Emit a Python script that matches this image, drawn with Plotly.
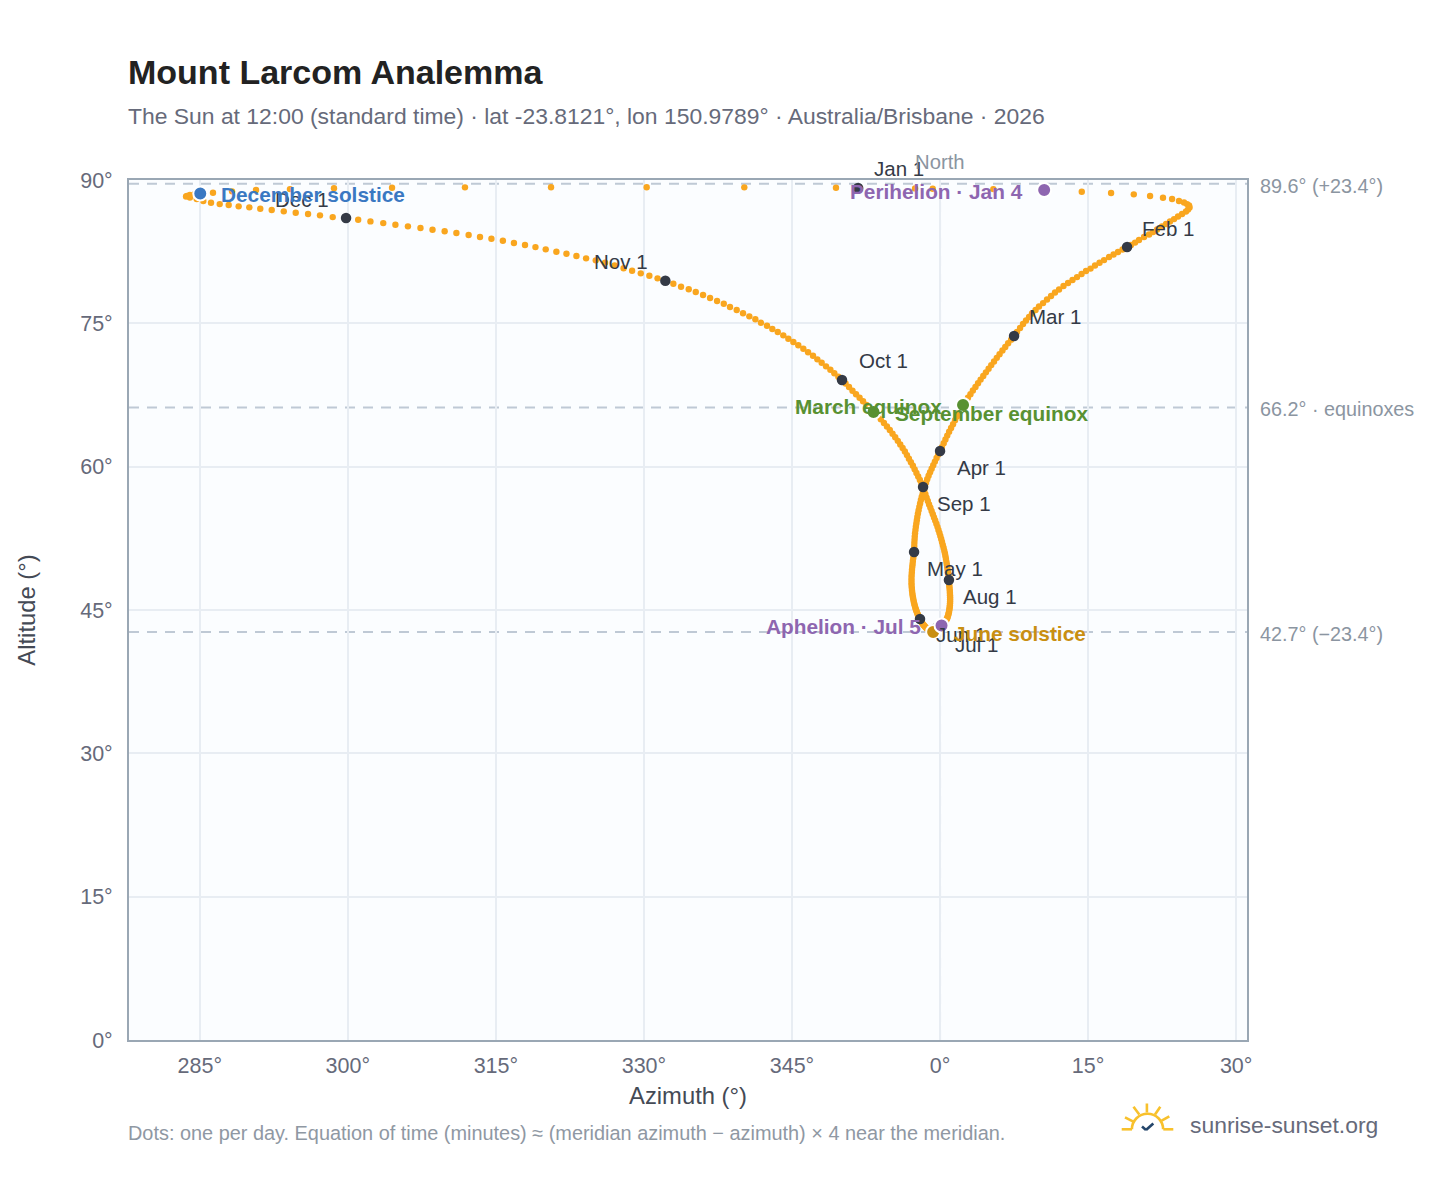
import plotly.graph_objects as go

# ---- daily Sun position (azimuth in degrees, continuing past 360 east of north) ----
az_jan = [349.46,357.47,359.26,365.40,370.54,374.36,377.33,379.63,381.28,382.59,383.51,384.21,384.72,385.03,385.23,385.28,385.13,384.92,384.52,384.11,383.71,383.30,382.90,382.49,381.99,381.58,381.18,380.67,380.16,379.76,379.35]
alt_jan = [89.19,89.12,89.09,89.05,88.95,88.77,88.64,88.50,88.32,88.14,88.01,87.80,87.64,87.48,87.33,87.12,86.91,86.70,86.44,86.18,85.91,85.65,85.39,85.13,84.82,84.55,84.29,84.03,83.72,83.45,83.19]
az_feb = [378.95,378.49,378.03,377.58,377.12,376.62,376.16,375.70,375.25,374.79,374.34,373.88,373.42,372.97,372.51,372.06,371.65,371.25,370.84,370.44,370.03,369.68,369.32,369.02,368.71,368.41,368.11,367.80]
alt_feb = [82.98,82.72,82.46,82.20,81.94,81.62,81.34,81.05,80.73,80.47,80.16,79.84,79.53,79.22,78.90,78.54,78.22,77.86,77.49,77.12,76.76,76.39,76.03,75.66,75.29,74.93,74.51,74.09]
az_mar = [367.50,367.20,366.90,366.61,366.32,366.03,365.75,365.47,365.19,364.92,364.65,364.38,364.11,363.85,363.59,363.33,363.08,362.83,362.58,362.33,362.12,361.92,361.72,361.52,361.32,361.12,360.92,360.73,360.55,360.37,360.19]
alt_mar = [73.67,73.29,72.91,72.53,72.15,71.77,71.39,71.01,70.63,70.25,69.87,69.49,69.11,68.73,68.35,67.97,67.59,67.21,66.83,66.45,66.05,65.65,65.25,64.85,64.45,64.05,63.65,63.25,62.85,62.45,62.05]
az_apr = [360.00,359.82,359.65,359.48,359.31,359.15,358.99,358.84,358.70,358.58,358.46,358.35,358.25,358.15,358.06,357.98,357.90,357.83,357.76,357.70,357.65,357.60,357.55,357.51,357.47,357.44,357.42,357.40,357.39,357.38]
alt_apr = [61.64,61.27,60.90,60.53,60.16,59.79,59.42,59.05,58.68,58.31,57.95,57.59,57.23,56.87,56.51,56.15,55.79,55.44,55.09,54.74,54.39,54.05,53.71,53.37,53.03,52.70,52.37,52.04,51.71,51.39]
az_may = [357.37,357.33,357.29,357.25,357.22,357.19,357.16,357.14,357.12,357.11,357.11,357.11,357.12,357.14,357.16,357.19,357.22,357.26,357.30,357.34,357.39,357.44,357.49,357.55,357.60,357.66,357.71,357.77,357.82,357.87,357.92]
alt_may = [51.07,50.75,50.44,50.13,49.82,49.52,49.22,48.93,48.64,48.36,48.08,47.81,47.55,47.29,47.04,46.79,46.55,46.32,46.09,45.87,45.66,45.46,45.27,45.09,44.92,44.76,44.61,44.47,44.34,44.22,44.13]
az_jun = [357.97,358.03,358.09,358.15,358.21,358.28,358.35,358.42,358.49,358.56,358.63,358.70,358.77,358.84,358.91,358.97,359.03,359.10,359.17,359.24,359.30,359.33,359.36,359.38,359.41,359.43,359.46,359.48,359.50,359.52]
alt_jun = [44.06,43.94,43.82,43.71,43.60,43.50,43.41,43.32,43.24,43.16,43.09,43.03,42.97,42.92,42.87,42.83,42.79,42.76,42.74,42.72,42.70,42.70,42.70,42.71,42.73,42.76,42.80,42.85,42.91,42.98]
az_jul = [359.55,359.70,359.85,360.00,360.15,360.26,360.36,360.45,360.53,360.60,360.66,360.72,360.77,360.82,360.86,360.90,360.93,360.96,360.98,361.00,361.01,361.02,361.02,361.02,361.01,361.00,360.99,360.97,360.95,360.93,360.92]
alt_jul = [43.06,43.13,43.21,43.29,43.38,43.47,43.57,43.67,43.78,43.89,44.01,44.14,44.28,44.44,44.60,44.77,44.95,45.13,45.32,45.51,45.71,45.91,46.12,46.33,46.55,46.77,46.99,47.22,47.45,47.68,47.91]
az_aug = [360.90,360.87,360.84,360.81,360.77,360.73,360.69,360.65,360.60,360.55,360.50,360.43,360.36,360.28,360.20,360.12,360.03,359.94,359.84,359.74,359.63,359.51,359.39,359.27,359.15,359.02,358.89,358.76,358.64,358.52,358.40]
alt_aug = [48.14,48.40,48.66,48.93,49.20,49.48,49.76,50.04,50.33,50.62,50.91,51.21,51.51,51.81,52.12,52.43,52.74,53.06,53.38,53.70,54.03,54.36,54.69,55.02,55.36,55.70,56.04,56.40,56.76,57.13,57.50]
az_sep = [358.28,358.12,357.96,357.79,357.61,357.43,357.25,357.05,356.85,356.65,356.44,356.21,355.97,355.72,355.46,355.19,354.91,354.62,354.32,354.00,353.64,353.26,352.90,352.55,352.20,351.85,351.49,351.13,350.78,350.43]
alt_sep = [57.87,58.24,58.61,58.98,59.35,59.72,60.09,60.47,60.84,61.21,61.59,61.96,62.33,62.70,63.08,63.45,63.83,64.20,64.58,64.95,65.33,65.72,66.10,66.47,66.85,67.22,67.58,67.95,68.33,68.70]
az_oct = [350.07,349.70,349.29,348.89,348.45,348.01,347.57,347.13,346.63,346.15,345.64,345.14,344.63,344.12,343.56,343.01,342.47,341.86,341.29,340.68,340.04,339.40,338.72,338.09,337.41,336.70,335.99,335.25,334.54,333.76,332.98]
alt_oct = [69.07,69.41,69.77,70.15,70.50,70.88,71.23,71.61,71.97,72.34,72.70,73.04,73.39,73.74,74.09,74.40,74.75,75.06,75.42,75.73,76.05,76.39,76.71,77.05,77.33,77.65,77.96,78.28,78.56,78.83,79.14]
az_nov = [332.17,331.38,330.55,329.68,328.80,327.94,327.03,326.06,325.12,324.14,323.16,322.15,321.13,320.05,319.01,317.95,316.83,315.71,314.55,313.39,312.24,311.00,309.81,308.58,307.36,306.09,304.82,303.59,302.29,301.05]
alt_nov = [79.46,79.71,79.98,80.23,80.50,80.76,81.07,81.34,81.59,81.80,82.04,82.28,82.49,82.74,82.98,83.19,83.40,83.64,83.85,84.03,84.24,84.45,84.63,84.80,84.97,85.15,85.32,85.49,85.67,85.84]
az_dec = [299.82,298.47,297.18,295.97,294.72,293.51,292.29,291.13,290.02,288.94,287.93,287.02,286.14,285.36,284.69,284.00,283.61,283.71,284.00,284.51,285.07,286.34,288.27,290.70,294.14,298.60,304.48,311.87,320.59,330.28,340.17]
alt_dec = [86.02,86.12,86.30,86.44,86.57,86.72,86.86,86.99,87.14,87.24,87.38,87.48,87.62,87.80,88.01,88.16,88.27,88.34,88.43,88.53,88.58,88.67,88.81,88.95,89.05,89.13,89.19,89.23,89.24,89.24,89.23]

# ---- first-of-month markers ----
month_names = ["Jan 1","Feb 1","Mar 1","Apr 1","May 1","Jun 1","Jul 1","Aug 1","Sep 1","Oct 1","Nov 1","Dec 1"]
month_az = [351.70,378.95,367.50,360.00,357.37,357.97,359.55,360.90,358.28,350.07,332.17,299.82]
month_alt = [89.16,82.98,73.67,61.64,51.07,44.06,43.06,48.14,57.87,69.07,79.46,86.02]

# ---- named events ----
event_names = ["December solstice","Perihelion · Jan 4","March equinox","September equinox","June solstice","Aphelion · Jul 5"]
event_az = [285.05,370.55,362.33,353.26,359.30,360.15]
event_alt = [88.59,88.95,66.45,65.72,42.70,43.38]
event_colors = ["#3a78c2","#8e66b0","#589132","#589132","#c98f12","#8e66b0"]

# ---- axes ----
az_ticks = [285,300,315,330,345,360,375,390]
az_labels = ["285°","300°","315°","330°","345°","0°","15°","30°"]
alt_ticks = [0,15,30,45,60,75,90]
alt_labels = ["0°","15°","30°","45°","60°","75°","90°"]
ref_alt = [89.6,66.2,42.7]
ref_labels = ["89.6° (+23.4°)","66.2° · equinoxes","42.7° (−23.4°)"]

azimuth = az_jan+az_feb+az_mar+az_apr+az_may+az_jun+az_jul+az_aug+az_sep+az_oct+az_nov+az_dec
altitude = alt_jan+alt_feb+alt_mar+alt_apr+alt_may+alt_jun+alt_jul+alt_aug+alt_sep+alt_oct+alt_nov+alt_dec
assert len(azimuth) == 365 and len(altitude) == 365

FONT = "Liberation Sans"
W, H = 1448, 1188
L, R, T, B = 129, 1247, 180, 1040
def xp(px): return (px - L) / (R - L)
def yp(py): return (B - py) / (B - T)

fig = go.Figure()
fig.add_trace(go.Scatter(x=azimuth, y=altitude, mode="markers", name="Daily position",
                         marker=dict(size=6.4, color="#f9a61f"), hoverinfo="x+y"))
fig.add_trace(go.Scatter(x=month_az, y=month_alt, mode="markers", name="First of month", text=month_names,
                         marker=dict(size=10.5, color="#343a46")))
fig.add_trace(go.Scatter(x=event_az, y=event_alt, mode="markers", name="Events", text=event_names,
                         marker=dict(size=14, color=event_colors, line=dict(color="white", width=2))))

ann = []
below = {"Apr 1","May 1","Jun 1","Jul 1","Aug 1","Sep 1"}
left = {"Nov 1","Dec 1"}
for n, a, h in zip(month_names, month_az, month_alt):
    ann.append(dict(x=a, y=h, text=n, showarrow=False, xanchor="center", yanchor="middle", borderpad=0, borderwidth=0,
                    xshift=-44 if n in left else 41,
                    yshift=-16 if n in below else (19 if n in left or n == "Feb 1" else 20),
                    font=dict(family=FONT, size=20.5, color="#343a46")))
right_side = {"December solstice","September equinox","June solstice"}
for n, a, h, c in zip(event_names, event_az, event_alt, event_colors):
    r = n in right_side
    ann.append(dict(x=a, y=h, text="<b>%s</b>" % n, showarrow=False, yanchor="middle", borderpad=0, borderwidth=0,
                    xanchor="left" if r else "right", xshift=21 if r else -21, yshift=-1.5,
                    font=dict(family=FONT, size=20.8, color=c)))
for v, t in zip(ref_alt, ref_labels):
    ann.append(dict(xref="paper", x=xp(1260), y=v, text=t, showarrow=False, xanchor="left", yanchor="middle", borderpad=0, borderwidth=0,
                    yshift=-2, font=dict(family=FONT, size=19.8, color="#8b95a1")))
ann.append(dict(x=360, yref="paper", y=yp(162), text="North", showarrow=False, xanchor="center", yanchor="middle", borderpad=0, borderwidth=0,
                font=dict(family=FONT, size=20.3, color="#8b95a1")))
ann.append(dict(xref="paper", yref="paper", x=xp(128), y=yp(116), xanchor="left", yanchor="middle", showarrow=False, borderpad=0, borderwidth=0,
                text="The Sun at 12:00 (standard time) · lat -23.8121°, lon 150.9789° · Australia/Brisbane · 2026",
                font=dict(family=FONT, size=22.9, color="#666a7a")))
ann.append(dict(xref="paper", yref="paper", x=xp(128), y=yp(1133), xanchor="left", yanchor="middle", showarrow=False, borderpad=0, borderwidth=0,
                text="Dots: one per day. Equation of time (minutes) ≈ (meridian azimuth − azimuth) × 4 near the meridian.",
                font=dict(family=FONT, size=19.9, color="#8f98a3")))
ann.append(dict(xref="paper", yref="paper", x=xp(1190), y=yp(1125), xanchor="left", yanchor="middle", showarrow=False, borderpad=0, borderwidth=0,
                text="sunrise-sunset.org", font=dict(family=FONT, size=22.9, color="#666a7a")))

shapes = []
dash = "10px,8px"
for v in ref_alt:
    shapes.append(dict(type="line", xref="paper", x0=0, x1=1, y0=v, y1=v, layer="below",
                       line=dict(color="#bfc9d5", width=2, dash=dash)))
shapes.append(dict(type="line", x0=360, x1=360, yref="paper", y0=0, y1=1, layer="below",
                   line=dict(color="#bfc9d5", width=2, dash=dash)))

# logo drawn with page-pixel helper
def seg(x0, y0, x1, y1, color="#f8c12c", w=2.6):
    shapes.append(dict(type="line", xref="paper", yref="paper", x0=xp(x0), x1=xp(x1), y0=yp(y0), y1=yp(y1),
                       line=dict(color=color, width=w)))
seg(1121.7,1129.3,1132,1129.3); seg(1163.3,1129.3,1173.3,1129.3)
seg(1146.9,1103.5,1146.9,1112.5); seg(1133.5,1106.8,1139.3,1114.5); seg(1160.3,1106.8,1155,1114.5)
seg(1125,1117.3,1133.3,1121.7); seg(1169.3,1116.3,1161.7,1120.7)
cx, cy, r, k = 1147.5, 1129.3, 15.6, 8.6
P = lambda x, y: "%.5f,%.5f" % (xp(x), yp(y))
shapes.append(dict(type="path", xref="paper", yref="paper",
                   path="M%s C%s %s %s C%s %s %s" % (P(cx-r,cy), P(cx-r,cy-k), P(cx-k,cy-r), P(cx,cy-r),
                                                     P(cx+k,cy-r), P(cx+r,cy-k), P(cx+r,cy)),
                   line=dict(color="#f8c12c", width=2.6)))
seg(1142,1126.6,1146,1130,"#24466b",2.6); seg(1146,1130,1153.3,1123.5,"#24466b",2.6)

axis_font = dict(family=FONT, size=21.5, color="#666a7a")
fig.update_layout(
    width=W, height=H, autosize=False, showlegend=False,
    margin=dict(l=L, r=W-R, t=T, b=H-B, pad=0),
    paper_bgcolor="white", plot_bgcolor="#fbfdff",
    font=dict(family=FONT),
    title=dict(text="<b>Mount Larcom Analemma</b>", x=128/W, xanchor="left", xref="container",
               y=1-72.5/H, yanchor="middle", yref="container", font=dict(family=FONT, size=34, color="#222222")),
    xaxis=dict(range=[277.83,391.10], tickvals=az_ticks, ticktext=az_labels, tickfont=axis_font,
               showgrid=True, gridcolor="#e8edf3", gridwidth=2, zeroline=False,
               showline=True, mirror=True, linecolor="#9aa7b4", linewidth=2,
               ticks="outside", ticklen=5, tickcolor="rgba(0,0,0,0)",
               title=dict(text="Azimuth (°)", standoff=11, font=dict(family=FONT, size=23.8, color="#444a55"))),
    yaxis=dict(range=[0,90], tickvals=alt_ticks, ticktext=alt_labels, tickfont=axis_font,
               showgrid=True, gridcolor="#e8edf3", gridwidth=2, zeroline=False,
               showline=True, mirror=True, linecolor="#9aa7b4", linewidth=2,
               ticks="outside", ticklen=10, tickcolor="rgba(0,0,0,0)",
               title=dict(text="Altitude (°)", standoff=38, font=dict(family=FONT, size=23.8, color="#444a55"))),
    annotations=ann, shapes=shapes,
)
fig.write_html("out.html", config={"displayModeBar": False},
               post_script="document.body.style.margin='0';document.body.style.overflow='hidden';")
